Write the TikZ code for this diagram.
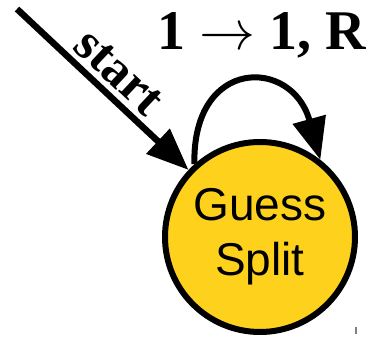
\documentclass[tikz,border=0pt]{standalone}
\usepackage{fontspec}
\setmainfont{Liberation Serif}
\setsansfont{Liberation Sans}
\usetikzlibrary{arrows.meta}
\definecolor{stateyellow}{RGB}{253,209,28}
\newcommand{\bigarrowsym}{{\fontsize{10}{12}\selectfont\scalebox{5.6}{$\rightarrow$}}}
\tikzset{
  state/.style={circle, draw=black, line width=6pt, fill=stateyellow, minimum size=190pt, inner sep=0pt,
    align=center, font=\sffamily\fontsize{46}{55}\selectfont},
  arr/.style={line width=6.5pt, -{Triangle[length=42pt,width=33pt]}},
  lbl/.style={font=\bfseries\fontsize{56}{60}\selectfont, inner sep=0pt},
  startlbl/.style={font=\bfseries\fontsize{51}{55}\selectfont, inner sep=0pt}
}
\begin{document}
\begin{tikzpicture}[x=1pt,y=1pt]
\useasboundingbox (0,0) rectangle (372,342);
\node[state] (c) at (260,105) {Guess\\Split};
\coordinate (s) at (17,333);
\draw[arr] (s) -- (c) node[startlbl, pos=0.5, sloped, above=5pt] (st) {start};
\draw[arr, line width=6pt] (c.132) .. controls (192,285) and (292,285) .. (c.52);
\node[lbl, anchor=base] (l) at (261.5,292) {1 \bigarrowsym{} 1, R};
\coordinate (t1) at (356,8);
\coordinate (t2) at (356,15);
\draw[gray, line width=2pt] (t1) -- (t2);
\end{tikzpicture}
\end{document}
